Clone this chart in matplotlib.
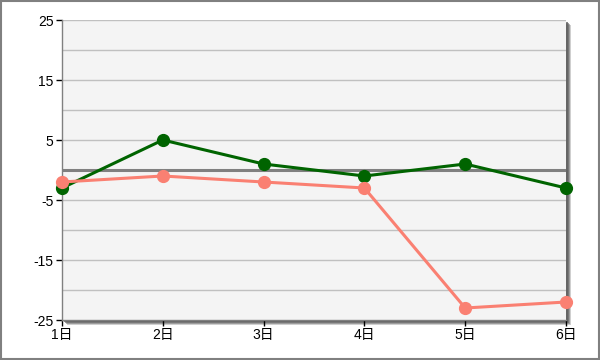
import matplotlib
matplotlib.use("Agg")
import matplotlib.pyplot as plt
from matplotlib.patches import Rectangle

plt.rcParams['font.family'] = ['Liberation Sans', 'Noto Sans CJK JP', 'DejaVu Sans']

# データ
days = ['1日', '2日', '3日', '4日', '5日', '6日']
series_green = [-3, 5, 1, -1, 1, -3]
series_salmon = [-2, -1, -2, -3, -23, -22]
y_ticks = [25, 15, 5, -5, -15, -25]
grid_levels = [25, 20, 15, 10, 5, -5, -10, -15, -20]

fig = plt.figure(figsize=(6, 3.6), dpi=100)
fig.patch.set_facecolor('white')

# 外枠
fig.patches.append(Rectangle((0.0015, 0.0025), 0.997, 0.995, transform=fig.transFigure,
                             fill=False, edgecolor='#808080', linewidth=1.5, zorder=-2))

left, bottom, width, height = 62 / 600, 40 / 360, 504 / 600, 300 / 360

# 影 (右下)
for i, a in enumerate([0.3, 0.45, 0.6, 0.75]):
    off = (5 - i) / 600
    offy = (5 - i) / 360
    fig.patches.append(Rectangle((left + off, bottom - offy), width, height,
                                 transform=fig.transFigure, facecolor='#606060',
                                 edgecolor='none', alpha=a, zorder=-1))

ax = fig.add_axes([left, bottom, width, height])
ax.set_facecolor('#f4f4f4')

x = list(range(len(days)))
for g in grid_levels:
    ax.axhline(g, color='#c0c0c0', linewidth=1.0, zorder=1)
ax.axhline(0, color='#808080', linewidth=2.2, zorder=2)

ax.plot(x, series_green, color='#006400', linewidth=2.2, marker='o',
        markersize=8.5, zorder=3, clip_on=False)
ax.plot(x, series_salmon, color='#fa8072', linewidth=2.2, marker='o',
        markersize=8.5, zorder=4, clip_on=False)

ax.set_xlim(0, len(days) - 1)
ax.set_ylim(-25, 25)
ax.set_xticks(x)
ax.set_xticklabels(days, fontsize=10)
ax.set_yticks(y_ticks)
ax.set_yticklabels([str(v) for v in y_ticks], fontsize=10)
ax.tick_params(axis='both', direction='out', length=4, width=1, color='black', pad=2)

for s in ['top', 'right']:
    ax.spines[s].set_visible(False)
for s in ['left', 'bottom']:
    ax.spines[s].set_color('#808080')
    ax.spines[s].set_linewidth(1.0)

fig.savefig('out.png', dpi=100)
